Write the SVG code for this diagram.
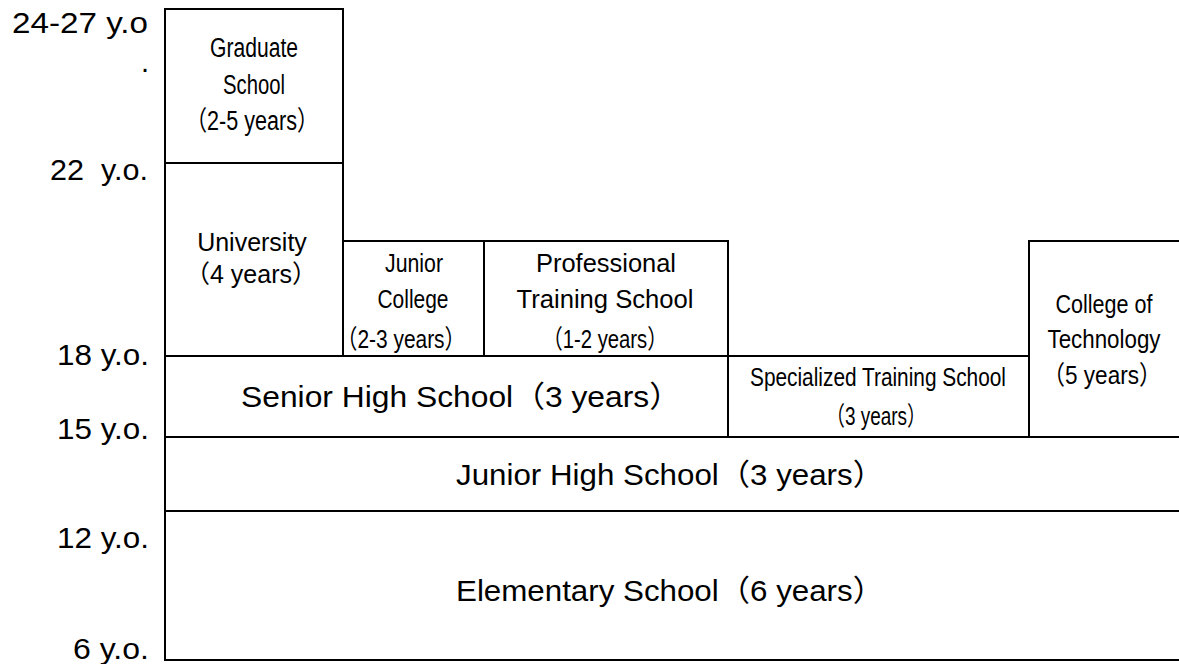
<svg xmlns="http://www.w3.org/2000/svg" width="1179" height="664" viewBox="0 0 1179 664">
<style>
text{font-family:"Liberation Sans","Noto Sans CJK JP",sans-serif;fill:#000}
.box{fill:#fff;stroke:#000;stroke-width:2}
.age{font-size:29px}
.big{font-size:30px}
.mid{font-size:25px;text-anchor:middle}
.nar{font-size:26px;text-anchor:middle}
.gr{font-size:27px;text-anchor:middle}
</style>
<rect width="1179" height="664" fill="#fff"/>
<g id="ages">
<text class="age" x="12" y="33" textLength="136" lengthAdjust="spacingAndGlyphs">24-27 y.o</text>
<text class="age" x="149" y="72" text-anchor="end">.</text>
<text class="age" x="50" y="180" textLength="98" lengthAdjust="spacingAndGlyphs" xml:space="preserve">22  y.o.</text>
<text class="age" x="57" y="365" textLength="92" lengthAdjust="spacingAndGlyphs">18 y.o.</text>
<text class="age" x="57" y="439" textLength="92" lengthAdjust="spacingAndGlyphs">15 y.o.</text>
<text class="age" x="57" y="548" textLength="92" lengthAdjust="spacingAndGlyphs">12 y.o.</text>
<text class="age" x="73" y="659" textLength="76" lengthAdjust="spacingAndGlyphs">6 y.o.</text>
</g>
<g id="elementary">
<rect class="box" x="165" y="511" width="1020" height="149"/>
<text class="big" x="456" y="601" textLength="428" lengthAdjust="spacingAndGlyphs">Elementary School（6 years）</text>
</g>
<g id="junior-high">
<rect class="box" x="165" y="437" width="1020" height="74"/>
<text class="big" x="456" y="485" textLength="428" lengthAdjust="spacingAndGlyphs">Junior High School（3 years）</text>
</g>
<g id="senior-high">
<rect class="box" x="165" y="356" width="563" height="81"/>
<text class="big" x="241" y="407" textLength="440" lengthAdjust="spacingAndGlyphs">Senior High School（3 years）</text>
</g>
<g id="specialized">
<rect class="box" x="728" y="356" width="301" height="81"/>
<text class="nar" x="878" y="386" textLength="256" lengthAdjust="spacingAndGlyphs">Specialized Training School</text>
<text class="nar" x="876" y="425" textLength="100" lengthAdjust="spacingAndGlyphs">（3 years）</text>
</g>
<g id="college-tech">
<rect class="box" x="1029" y="241" width="156" height="196"/>
<text class="nar" x="1104" y="313" textLength="97" lengthAdjust="spacingAndGlyphs">College of</text>
<text class="nar" x="1104" y="348" textLength="113" lengthAdjust="spacingAndGlyphs">Technology</text>
<text class="nar" x="1102" y="384" textLength="119" lengthAdjust="spacingAndGlyphs">（5 years）</text>
</g>
<g id="professional">
<rect class="box" x="484" y="241" width="244" height="115"/>
<text class="nar" x="606" y="272" textLength="140" lengthAdjust="spacingAndGlyphs">Professional</text>
<text class="nar" x="605" y="308" textLength="177" lengthAdjust="spacingAndGlyphs">Training School</text>
<text class="nar" x="605" y="348" textLength="125" lengthAdjust="spacingAndGlyphs">（1-2 years）</text>
</g>
<g id="junior-college">
<rect class="box" x="343" y="241" width="141" height="115"/>
<text class="nar" x="414" y="272" textLength="58" lengthAdjust="spacingAndGlyphs">Junior</text>
<text class="nar" x="413" y="308" textLength="71" lengthAdjust="spacingAndGlyphs">College</text>
<text class="nar" x="401" y="348" textLength="129" lengthAdjust="spacingAndGlyphs">（2-3 years）</text>
</g>
<g id="university">
<rect class="box" x="165" y="163" width="178" height="193"/>
<text class="mid" x="252" y="251">University</text>
<text class="mid" x="251" y="283">（4 years）</text>
</g>
<g id="graduate">
<rect class="box" x="165" y="9" width="178" height="154"/>
<text class="gr" x="254" y="57" textLength="88" lengthAdjust="spacingAndGlyphs">Graduate</text>
<text class="gr" x="254" y="94" textLength="62" lengthAdjust="spacingAndGlyphs">School</text>
<text class="gr" x="252" y="130" textLength="133" lengthAdjust="spacingAndGlyphs">（2-5 years）</text>
</g>
<g id="connectors"></g>
</svg>
